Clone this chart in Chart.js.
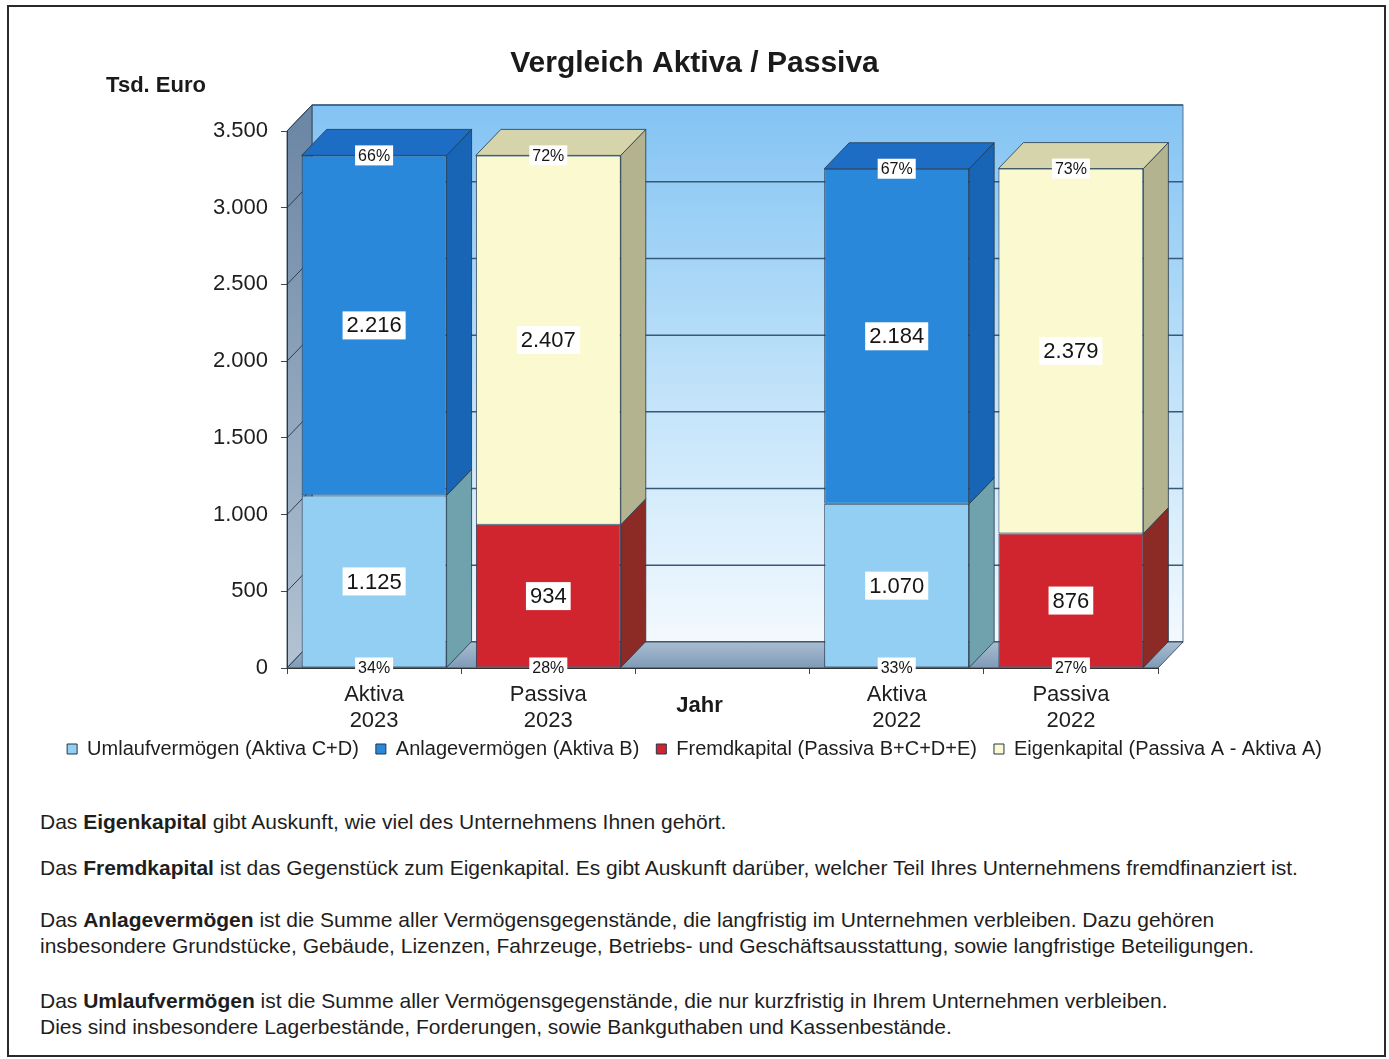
<!DOCTYPE html>
<html lang="de">
<head>
<meta charset="utf-8">
<title>Vergleich Aktiva / Passiva</title>
<script src="https://cdn.jsdelivr.net/npm/chart.js@4.4.1/dist/chart.umd.min.js"></script>
<style>
  html, body { margin:0; padding:0; background:#fff; }
  body { width:1389px; height:1059px; position:relative; overflow:hidden;
         font-family:"Liberation Sans", Arial, sans-serif; color:#1e1e1e; }
  .rahmen { position:absolute; left:7px; top:5px; width:1379px; height:1052px;
            border:2px solid #2a2a2a; box-sizing:border-box; }
  #wrap { position:absolute; left:0; top:0; width:1389px; height:794px; }
  .txt { position:absolute; left:40px; margin:0; font-size:21px; line-height:26px; white-space:nowrap; }
</style>
</head>
<body>
<div class="rahmen"></div>
<div id="wrap"><canvas id="bilanz"></canvas></div>

<p class="txt" style="top:809px">Das <b>Eigenkapital</b> gibt Auskunft, wie viel des Unternehmens Ihnen gehört.</p>
<p class="txt" style="top:855px">Das <b>Fremdkapital</b> ist das Gegenstück zum Eigenkapital. Es gibt Auskunft darüber, welcher Teil Ihres Unternehmens fremdfinanziert ist.</p>
<p class="txt" style="top:907px">Das <b>Anlagevermögen</b> ist die Summe aller Vermögensgegenstände, die langfristig im Unternehmen verbleiben. Dazu gehören<br>insbesondere Grundstücke, Gebäude, Lizenzen, Fahrzeuge, Betriebs- und Geschäftsausstattung, sowie langfristige Beteiligungen.</p>
<p class="txt" style="top:988px">Das <b>Umlaufvermögen</b> ist die Summe aller Vermögensgegenstände, die nur kurzfristig in Ihrem Unternehmen verbleiben.<br>Dies sind insbesondere Lagerbestände, Forderungen, sowie Bankguthaben und Kassenbestände.</p>

<script>
// Daten (Tsd. Euro)
const kategorien = [['Aktiva', '2023'], ['Passiva', '2023'], '', ['Aktiva', '2022'], ['Passiva', '2022']];
const umlaufvermoegen = [1125, null, null, 1070, null];
const anlagevermoegen = [2216, null, null, 2184, null];
const fremdkapital = [null, 934, null, null, 876];
const eigenkapital = [null, 2407, null, null, 2379];
const yMax = 3500;
const yStep = 500;

// Tiefe der 3D-Darstellung
const TX = 25, TY = 26;

const farben = {
  umlauf: { front: '#93cff2', seite: '#70a2ae', deckel: '#7fb9d6' },
  anlage: { front: '#2a88da', seite: '#1865b6', deckel: '#1e6dc4' },
  fremd:  { front: '#d0252f', seite: '#8c2a25', deckel: '#a82a28' },
  eigen:  { front: '#fbf9cf', seite: '#b4b38f', deckel: '#d6d4aa' }
};
const kante = '#23374c';

const deZahl = v => String(Math.round(v)).replace(/\B(?=(\d{3})+(?!\d))/g, '.');

function poly(ctx, pts, fill) {
  ctx.beginPath();
  ctx.moveTo(pts[0][0], pts[0][1]);
  for (let i = 1; i < pts.length; i++) ctx.lineTo(pts[i][0], pts[i][1]);
  ctx.closePath();
  ctx.fillStyle = fill;
  ctx.fill();
  ctx.strokeStyle = kante;
  ctx.lineWidth = 0.8;
  ctx.stroke();
}

function etikett(ctx, text, x, y, size, padX, h) {
  ctx.font = size + 'px "Liberation Sans", Arial, sans-serif';
  const w = ctx.measureText(text).width + 2 * padX;
  ctx.fillStyle = '#fff';
  ctx.fillRect(x - w / 2, y - h / 2, w, h);
  ctx.fillStyle = '#151515';
  ctx.textAlign = 'center';
  ctx.textBaseline = 'middle';
  ctx.fillText(text, x, y + 1);
}

// Rückwand, Seitenwand und Boden
const raum = {
  id: 'raum',
  afterLayout(chart) {
    // Legende etwas näher an die Achsenbeschriftung
    const lg = chart.legend;
    if (lg) { lg.top -= 14; lg.bottom -= 14; }
  },
  beforeDraw(chart) {
    const { ctx, chartArea: a, scales } = chart;
    const y = scales.y;
    ctx.save();
    // Rückwand
    let g = ctx.createLinearGradient(0, a.top - TY, 0, a.bottom - TY);
    g.addColorStop(0, '#83c3f3');
    g.addColorStop(0.5, '#bde1f9');
    g.addColorStop(1, '#f3f9fe');
    ctx.fillStyle = g;
    ctx.fillRect(a.left + TX, a.top - TY, a.right - a.left, a.bottom - a.top);
    ctx.strokeStyle = '#5a7590';
    ctx.lineWidth = 1;
    ctx.strokeRect(a.left + TX, a.top - TY, a.right - a.left, a.bottom - a.top);
    // Gitterlinien auf der Rückwand
    ctx.strokeStyle = '#38587a';
    ctx.lineWidth = 1.5;
    y.ticks.forEach(t => {
      const py = y.getPixelForValue(t.value) - TY;
      ctx.beginPath();
      ctx.moveTo(a.left + TX, py);
      ctx.lineTo(a.right + TX, py);
      ctx.stroke();
    });
    // linke Wand
    g = ctx.createLinearGradient(0, a.top, 0, a.bottom);
    g.addColorStop(0, '#6d88a6');
    g.addColorStop(1, '#b3c3d3');
    poly(ctx, [[a.left, a.top], [a.left + TX, a.top - TY], [a.left + TX, a.bottom - TY], [a.left, a.bottom]], g);
    ctx.strokeStyle = '#2e3f52';
    ctx.lineWidth = 1;
    y.ticks.forEach(t => {
      const py = y.getPixelForValue(t.value);
      ctx.beginPath();
      ctx.moveTo(a.left, py);
      ctx.lineTo(a.left + TX, py - TY);
      ctx.stroke();
    });
    // Boden
    g = ctx.createLinearGradient(0, a.bottom - TY, 0, a.bottom);
    g.addColorStop(0, '#a9bdd2');
    g.addColorStop(1, '#7f9ab6');
    poly(ctx, [[a.left, a.bottom], [a.left + TX, a.bottom - TY], [a.right + TX, a.bottom - TY], [a.right, a.bottom]], g);
    ctx.restore();
  }
};

// Seiten, Deckel und Beschriftungen der Säulen
const saeulen = {
  id: 'saeulen',
  afterDatasetsDraw(chart) {
    const { ctx, data } = chart;
    const n = data.labels.length;
    ctx.save();
    for (let j = 0; j < n; j++) {
      const teile = [];
      data.datasets.forEach((ds, i) => {
        if (ds.data[j] == null) return;
        const bar = chart.getDatasetMeta(i).data[j];
        const p = bar.getProps(['x', 'y', 'base', 'width'], true);
        teile.push({ ds, wert: ds.data[j], ...p });
      });
      if (!teile.length) continue;
      const summe = teile.reduce((s, t) => s + t.wert, 0);
      teile.forEach((t, k) => {
        const l = t.x - t.width / 2, r = t.x + t.width / 2;
        poly(ctx, [[r, t.y], [r + TX, t.y - TY], [r + TX, t.base - TY], [r, t.base]], t.ds.seite);
        if (k === teile.length - 1) {
          poly(ctx, [[l, t.y], [l + TX, t.y - TY], [r + TX, t.y - TY], [r, t.y]], t.ds.deckel);
        }
      });
      teile.forEach((t, k) => {
        etikett(ctx, deZahl(t.wert), t.x, (t.y + t.base) / 2, 22, 4, 28);
        const pz = Math.round(t.wert / summe * 100) + '%';
        const py = k === 0 ? t.base : t.y;
        etikett(ctx, pz, t.x, py, 16, 3, 20);
      });
    }
    ctx.restore();
  },
  afterDraw(chart) {
    const { ctx, chartArea: a } = chart;
    ctx.save();
    ctx.fillStyle = '#1a1a1a';
    ctx.font = 'bold 22px "Liberation Sans", Arial, sans-serif';
    ctx.textAlign = 'center';
    ctx.textBaseline = 'middle';
    ctx.fillText('Tsd. Euro', a.left - 131, a.top - 45);
    ctx.fillText('Jahr', (a.left + a.right) / 2 - 23, a.bottom + 38);
    ctx.restore();
  }
};

function reihe(label, werte, f) {
  return {
    label: label,
    data: werte,
    backgroundColor: f.front,
    borderColor: kante,
    borderWidth: 1,
    borderSkipped: false,
    seite: f.seite,
    deckel: f.deckel
  };
}

const ctx = document.getElementById('bilanz').getContext('2d');
new Chart(ctx, {
  type: 'bar',
  data: {
    labels: kategorien,
    datasets: [
      reihe('Umlaufvermögen (Aktiva C+D)', umlaufvermoegen, farben.umlauf),
      reihe('Anlagevermögen (Aktiva B)', anlagevermoegen, farben.anlage),
      reihe('Fremdkapital (Passiva B+C+D+E)', fremdkapital, farben.fremd),
      reihe('Eigenkapital (Passiva A - Aktiva A)', eigenkapital, farben.eigen)
    ]
  },
  options: {
    responsive: true,
    maintainAspectRatio: false,
    animation: false,
    layout: { padding: { top: 0, left: 0, right: 0, bottom: 11 } },
    datasets: { bar: { barPercentage: 0.832, categoryPercentage: 1 } },
    plugins: {
      title: {
        display: true,
        text: 'Vergleich Aktiva / Passiva',
        color: '#1a1a1a',
        font: { family: '"Liberation Sans", Arial, sans-serif', size: 30, weight: 'bold' },
        padding: { top: 46, bottom: 49 }
      },
      legend: {
        position: 'bottom',
        labels: {
          color: '#1e1e1e',
          font: { family: '"Liberation Sans", Arial, sans-serif', size: 20 },
          boxWidth: 10,
          boxHeight: 10,
          padding: 17
        }
      },
      tooltip: { enabled: false }
    },
    scales: {
      x: {
        stacked: true,
        offset: true,
        grid: { drawOnChartArea: false, drawTicks: true, tickLength: 6, color: '#444', offset: true },
        border: { display: true, color: '#333' },
        ticks: {
          color: '#1e1e1e',
          font: { family: '"Liberation Sans", Arial, sans-serif', size: 22, lineHeight: 1.18 },
          padding: 8,
          maxRotation: 0,
          autoSkip: false
        },
        afterFit: s => { s.height = 68; }
      },
      y: {
        stacked: true,
        min: 0,
        max: yMax,
        grid: { drawOnChartArea: false, drawTicks: true, tickLength: 6, color: '#444' },
        border: { display: true, color: '#333' },
        ticks: {
          stepSize: yStep,
          color: '#1e1e1e',
          font: { family: '"Liberation Sans", Arial, sans-serif', size: 22 },
          padding: 13,
          callback: v => deZahl(v)
        },
        afterFit: s => { s.width = 287; }
      },
      rechts: {
        type: 'linear',
        position: 'right',
        display: true,
        grid: { display: false },
        border: { display: false },
        ticks: { display: false },
        afterFit: s => { s.width = 1389 - 1158; }
      }
    }
  },
  plugins: [raum, saeulen]
});
</script>
</body>
</html>
